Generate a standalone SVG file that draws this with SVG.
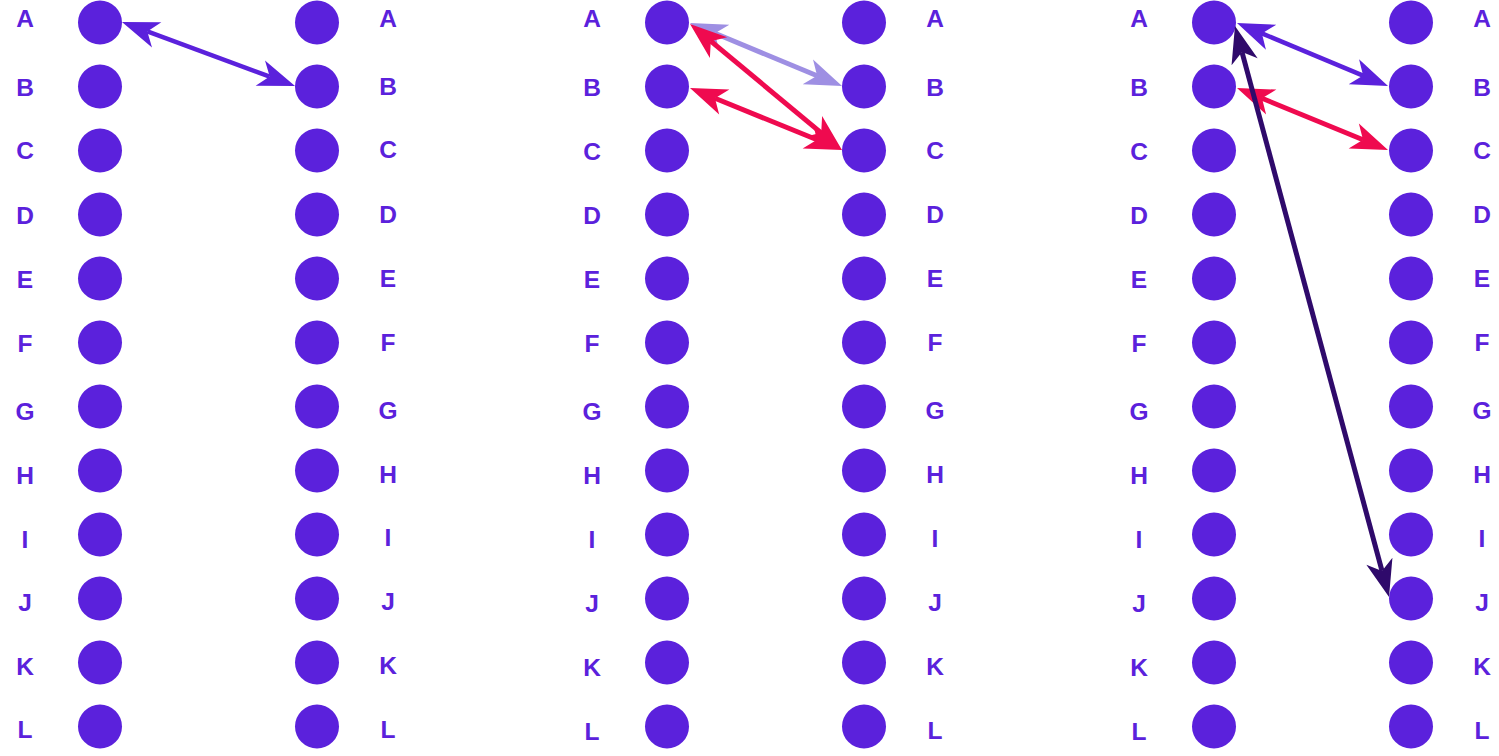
<svg xmlns="http://www.w3.org/2000/svg" width="1499" height="756" viewBox="0 0 1499 756">
<style>
.n{fill:#5b21dc}
.t{fill:#5b21dc;font-family:"Liberation Sans",Arial,sans-serif;font-weight:bold;font-size:24.5px;text-anchor:middle}
.c{fill:none;stroke-linecap:butt}
</style>
<defs>
<marker id="mb" markerUnits="userSpaceOnUse" orient="auto-start-reverse" refX="0" refY="0" markerWidth="40" markerHeight="30" overflow="visible"><path d="M27,0 L-10,-13.5 L0,0 L-10,13.5 Z" fill="#5b21dc"/></marker>
<marker id="ml" markerUnits="userSpaceOnUse" orient="auto-start-reverse" refX="0" refY="0" markerWidth="40" markerHeight="30" overflow="visible"><path d="M27,0 L-10,-13.5 L0,0 L-10,13.5 Z" fill="#9e8fe3"/></marker>
<marker id="mr" markerUnits="userSpaceOnUse" orient="auto-start-reverse" refX="0" refY="0" markerWidth="40" markerHeight="30" overflow="visible"><path d="M27,0 L-10,-13.5 L0,0 L-10,13.5 Z" fill="#ef0a4f"/></marker>
<marker id="md" markerUnits="userSpaceOnUse" orient="auto-start-reverse" refX="0" refY="0" markerWidth="40" markerHeight="30" overflow="visible"><path d="M27,0 L-10,-13.5 L0,0 L-10,13.5 Z" fill="#2f0a6b"/></marker>
</defs>
<rect width="1499" height="756" fill="#ffffff"/>

<!-- Panel 1 -->
<g id="p1-left">
<g id="p1-L-A"><circle class="n" cx="100" cy="22.5" r="22"/><text class="t" x="25" y="27">A</text></g>
<g id="p1-L-B"><circle class="n" cx="100" cy="86.5" r="22"/><text class="t" x="25" y="96">B</text></g>
<g id="p1-L-C"><circle class="n" cx="100" cy="150.5" r="22"/><text class="t" x="25" y="159">C</text></g>
<g id="p1-L-D"><circle class="n" cx="100" cy="214.5" r="22"/><text class="t" x="25" y="224">D</text></g>
<g id="p1-L-E"><circle class="n" cx="100" cy="278.5" r="22"/><text class="t" x="25" y="288">E</text></g>
<g id="p1-L-F"><circle class="n" cx="100" cy="342.5" r="22"/><text class="t" x="25" y="352">F</text></g>
<g id="p1-L-G"><circle class="n" cx="100" cy="406.5" r="22"/><text class="t" x="25" y="420">G</text></g>
<g id="p1-L-H"><circle class="n" cx="100" cy="470.5" r="22"/><text class="t" x="25" y="484">H</text></g>
<g id="p1-L-I"><circle class="n" cx="100" cy="534.5" r="22"/><text class="t" x="25" y="548">I</text></g>
<g id="p1-L-J"><circle class="n" cx="100" cy="598.5" r="22"/><text class="t" x="25" y="611">J</text></g>
<g id="p1-L-K"><circle class="n" cx="100" cy="662.5" r="22"/><text class="t" x="25" y="675">K</text></g>
<g id="p1-L-L"><circle class="n" cx="100" cy="726.5" r="22"/><text class="t" x="25" y="738">L</text></g>
</g>
<g id="p1-right">
<g id="p1-R-A"><circle class="n" cx="317" cy="22.5" r="22"/><text class="t" x="388" y="27">A</text></g>
<g id="p1-R-B"><circle class="n" cx="317" cy="86.5" r="22"/><text class="t" x="388" y="95">B</text></g>
<g id="p1-R-C"><circle class="n" cx="317" cy="150.5" r="22"/><text class="t" x="388" y="158">C</text></g>
<g id="p1-R-D"><circle class="n" cx="317" cy="214.5" r="22"/><text class="t" x="388" y="223">D</text></g>
<g id="p1-R-E"><circle class="n" cx="317" cy="278.5" r="22"/><text class="t" x="388" y="287">E</text></g>
<g id="p1-R-F"><circle class="n" cx="317" cy="342.5" r="22"/><text class="t" x="388" y="351">F</text></g>
<g id="p1-R-G"><circle class="n" cx="317" cy="406.5" r="22"/><text class="t" x="388" y="419">G</text></g>
<g id="p1-R-H"><circle class="n" cx="317" cy="470.5" r="22"/><text class="t" x="388" y="483">H</text></g>
<g id="p1-R-I"><circle class="n" cx="317" cy="534.5" r="22"/><text class="t" x="388" y="546">I</text></g>
<g id="p1-R-J"><circle class="n" cx="317" cy="598.5" r="22"/><text class="t" x="388" y="610">J</text></g>
<g id="p1-R-K"><circle class="n" cx="317" cy="662.5" r="22"/><text class="t" x="388" y="674">K</text></g>
<g id="p1-R-L"><circle class="n" cx="317" cy="726.5" r="22"/><text class="t" x="388" y="738">L</text></g>
</g>

<!-- Panel 2 -->
<g id="p2-left">
<g id="p2-L-A"><circle class="n" cx="667" cy="22.5" r="22"/><text class="t" x="592" y="27">A</text></g>
<g id="p2-L-B"><circle class="n" cx="667" cy="86.5" r="22"/><text class="t" x="592" y="96">B</text></g>
<g id="p2-L-C"><circle class="n" cx="667" cy="150.5" r="22"/><text class="t" x="592" y="160">C</text></g>
<g id="p2-L-D"><circle class="n" cx="667" cy="214.5" r="22"/><text class="t" x="592" y="224">D</text></g>
<g id="p2-L-E"><circle class="n" cx="667" cy="278.5" r="22"/><text class="t" x="592" y="288">E</text></g>
<g id="p2-L-F"><circle class="n" cx="667" cy="342.5" r="22"/><text class="t" x="592" y="352">F</text></g>
<g id="p2-L-G"><circle class="n" cx="667" cy="406.5" r="22"/><text class="t" x="592" y="420">G</text></g>
<g id="p2-L-H"><circle class="n" cx="667" cy="470.5" r="22"/><text class="t" x="592" y="484">H</text></g>
<g id="p2-L-I"><circle class="n" cx="667" cy="534.5" r="22"/><text class="t" x="592" y="548">I</text></g>
<g id="p2-L-J"><circle class="n" cx="667" cy="598.5" r="22"/><text class="t" x="592" y="612">J</text></g>
<g id="p2-L-K"><circle class="n" cx="667" cy="662.5" r="22"/><text class="t" x="592" y="676">K</text></g>
<g id="p2-L-L"><circle class="n" cx="667" cy="726.5" r="22"/><text class="t" x="592" y="740">L</text></g>
</g>
<g id="p2-right">
<g id="p2-R-A"><circle class="n" cx="864" cy="22.5" r="22"/><text class="t" x="935" y="27">A</text></g>
<g id="p2-R-B"><circle class="n" cx="864" cy="86.5" r="22"/><text class="t" x="935" y="96">B</text></g>
<g id="p2-R-C"><circle class="n" cx="864" cy="150.5" r="22"/><text class="t" x="935" y="159">C</text></g>
<g id="p2-R-D"><circle class="n" cx="864" cy="214.5" r="22"/><text class="t" x="935" y="223">D</text></g>
<g id="p2-R-E"><circle class="n" cx="864" cy="278.5" r="22"/><text class="t" x="935" y="287">E</text></g>
<g id="p2-R-F"><circle class="n" cx="864" cy="342.5" r="22"/><text class="t" x="935" y="351">F</text></g>
<g id="p2-R-G"><circle class="n" cx="864" cy="406.5" r="22"/><text class="t" x="935" y="419">G</text></g>
<g id="p2-R-H"><circle class="n" cx="864" cy="470.5" r="22"/><text class="t" x="935" y="483">H</text></g>
<g id="p2-R-I"><circle class="n" cx="864" cy="534.5" r="22"/><text class="t" x="935" y="547">I</text></g>
<g id="p2-R-J"><circle class="n" cx="864" cy="598.5" r="22"/><text class="t" x="935" y="611">J</text></g>
<g id="p2-R-K"><circle class="n" cx="864" cy="662.5" r="22"/><text class="t" x="935" y="675">K</text></g>
<g id="p2-R-L"><circle class="n" cx="864" cy="726.5" r="22"/><text class="t" x="935" y="739">L</text></g>
</g>

<!-- Panel 3 -->
<g id="p3-left">
<g id="p3-L-A"><circle class="n" cx="1214" cy="22.5" r="22"/><text class="t" x="1139" y="27">A</text></g>
<g id="p3-L-B"><circle class="n" cx="1214" cy="86.5" r="22"/><text class="t" x="1139" y="96">B</text></g>
<g id="p3-L-C"><circle class="n" cx="1214" cy="150.5" r="22"/><text class="t" x="1139" y="160">C</text></g>
<g id="p3-L-D"><circle class="n" cx="1214" cy="214.5" r="22"/><text class="t" x="1139" y="224">D</text></g>
<g id="p3-L-E"><circle class="n" cx="1214" cy="278.5" r="22"/><text class="t" x="1139" y="288">E</text></g>
<g id="p3-L-F"><circle class="n" cx="1214" cy="342.5" r="22"/><text class="t" x="1139" y="352">F</text></g>
<g id="p3-L-G"><circle class="n" cx="1214" cy="406.5" r="22"/><text class="t" x="1139" y="420">G</text></g>
<g id="p3-L-H"><circle class="n" cx="1214" cy="470.5" r="22"/><text class="t" x="1139" y="484">H</text></g>
<g id="p3-L-I"><circle class="n" cx="1214" cy="534.5" r="22"/><text class="t" x="1139" y="548">I</text></g>
<g id="p3-L-J"><circle class="n" cx="1214" cy="598.5" r="22"/><text class="t" x="1139" y="612">J</text></g>
<g id="p3-L-K"><circle class="n" cx="1214" cy="662.5" r="22"/><text class="t" x="1139" y="676">K</text></g>
<g id="p3-L-L"><circle class="n" cx="1214" cy="726.5" r="22"/><text class="t" x="1139" y="740">L</text></g>
</g>
<g id="p3-right">
<g id="p3-R-A"><circle class="n" cx="1411" cy="22.5" r="22"/><text class="t" x="1482" y="27">A</text></g>
<g id="p3-R-B"><circle class="n" cx="1411" cy="86.5" r="22"/><text class="t" x="1482" y="96">B</text></g>
<g id="p3-R-C"><circle class="n" cx="1411" cy="150.5" r="22"/><text class="t" x="1482" y="159">C</text></g>
<g id="p3-R-D"><circle class="n" cx="1411" cy="214.5" r="22"/><text class="t" x="1482" y="223">D</text></g>
<g id="p3-R-E"><circle class="n" cx="1411" cy="278.5" r="22"/><text class="t" x="1482" y="287">E</text></g>
<g id="p3-R-F"><circle class="n" cx="1411" cy="342.5" r="22"/><text class="t" x="1482" y="351">F</text></g>
<g id="p3-R-G"><circle class="n" cx="1411" cy="406.5" r="22"/><text class="t" x="1482" y="419">G</text></g>
<g id="p3-R-H"><circle class="n" cx="1411" cy="470.5" r="22"/><text class="t" x="1482" y="483">H</text></g>
<g id="p3-R-I"><circle class="n" cx="1411" cy="534.5" r="22"/><text class="t" x="1482" y="547">I</text></g>
<g id="p3-R-J"><circle class="n" cx="1411" cy="598.5" r="22"/><text class="t" x="1482" y="611">J</text></g>
<g id="p3-R-K"><circle class="n" cx="1411" cy="662.5" r="22"/><text class="t" x="1482" y="675">K</text></g>
<g id="p3-R-L"><circle class="n" cx="1411" cy="726.5" r="22"/><text class="t" x="1482" y="739">L</text></g>
</g>

<g id="connectors">
<line class="c" x1="147.3" y1="31.4" x2="269.7" y2="76.6" stroke="#5b21dc" stroke-width="4.5" marker-start="url(#mb)" marker-end="url(#mb)"/>
<line class="c" x1="714.9" y1="33.3" x2="817.1" y2="75.7" stroke="#9e8fe3" stroke-width="5" marker-start="url(#ml)" marker-end="url(#ml)"/>
<line class="c" x1="710.8" y1="41.2" x2="821.2" y2="132.8" stroke="#ef0a4f" stroke-width="5" marker-start="url(#mr)" marker-end="url(#mr)"/>
<line class="c" x1="715" y1="98.2" x2="817" y2="139.8" stroke="#ef0a4f" stroke-width="5" marker-start="url(#mr)" marker-end="url(#mr)"/>
<line class="c" x1="1261.9" y1="33.4" x2="1363.1" y2="75.6" stroke="#5b21dc" stroke-width="4.5" marker-start="url(#mb)" marker-end="url(#mb)"/>
<line class="c" x1="1262" y1="98.3" x2="1363" y2="139.7" stroke="#ef0a4f" stroke-width="5" marker-start="url(#mr)" marker-end="url(#mr)"/>
<line class="c" x1="1242" y1="52.1" x2="1382" y2="570.9" stroke="#2f0a6b" stroke-width="5" marker-start="url(#md)" marker-end="url(#md)"/>
</g>
</svg>
